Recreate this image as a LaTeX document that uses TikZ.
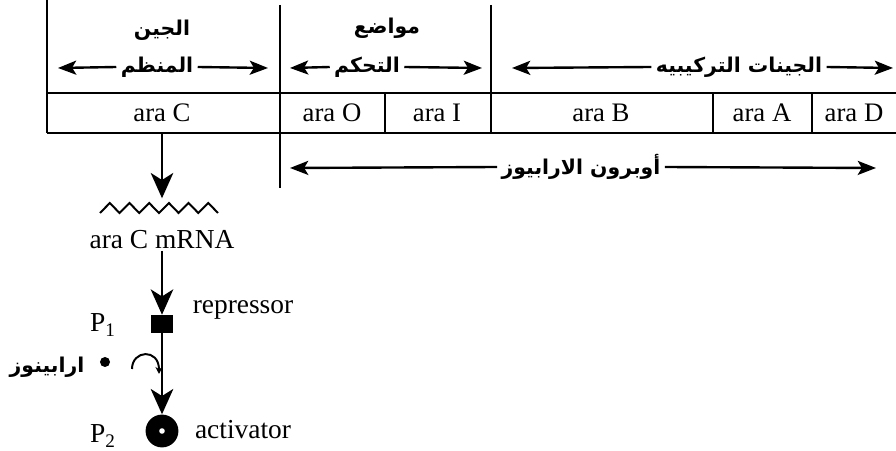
\documentclass[tikz,border=0pt]{standalone}
\usepackage{fontspec}
\setmainfont{Liberation Serif}
\newfontfamily\arabicfont[Script=Arabic]{DejaVu Sans}
\TeXXeTstate=1
\usetikzlibrary{positioning,arrows.meta}
\tikzset{
  ln/.style={line width=1.7pt},
  harr/.style={ln, -{Stealth[length=13pt,width=10pt,inset=3pt]}},
  varr/.style={ln, -{Stealth[length=18pt,width=16pt,inset=5pt]}},
  lab/.style={font=\fontsize{19.5}{21}\selectfont, inner sep=1pt},
  cell/.style={font=\fontsize{19}{21}\selectfont, inner sep=0pt, minimum height=1cm},
  arlab/.style={font=\fontsize{14.5}{17}\selectfont\arabicfont\bfseries, inner sep=3pt}}

\begin{document}
\begin{tikzpicture}[x=0.025cm, y=-0.025cm]
\useasboundingbox (0,0) rectangle (896,451);
% frame of the gene map
\draw[ln] (47,0) -- (47,133);
\draw[ln] (280,5) -- (280,188);
\draw[ln] (491,5) -- (491,133);
\draw[ln] (47,93) -- (896,93);
\draw[ln] (47,133) -- (896,133);
\foreach \x in {385,713,812} \draw[ln] (\x,93) -- (\x,133);
% cells
\node[cell, minimum width=5.8cm] (arac) at (162,113) {ara C};
\node[cell] (arao) at (332,113) {ara O};
\node[cell] (arai) at (437,113) {ara I};
\node[cell] (arab) at (601,113) {ara B};
\node[cell] (araa) at (762,113) {ara A};
\node[cell] (arad) at (854,113) {ara D};
% arabic headings
\node[arlab] (gene) at (162,30) {\beginR الجين\endR};
\node[arlab] (reg) at (157,67) {\beginR المنظم\endR};
\coordinate (regl) at (58,68);
\coordinate (regr) at (268,68);
\draw[harr] (reg.west) -- (regl);
\draw[harr] (reg.east) -- (regr);
\node[arlab] (sites) at (387,28) {\beginR مواضع\endR};
\node[arlab] (ctrl) at (367,67) {\beginR التحكم\endR};
\coordinate (ctrll) at (290,68);
\coordinate (ctrlr) at (482,68);
\draw[harr] (ctrl.west) -- (ctrll);
\draw[harr] (ctrl.east) -- (ctrlr);
\node[arlab] (struct) at (739,67) {\beginR الجينات التركيبيه\endR};
\coordinate (strl) at (512,68);
\coordinate (strr) at (893,68);
\draw[harr] (struct.west) -- (strl);
\draw[harr] (struct.east) -- (strr);
\node[arlab] (operon) at (581,167) {\beginR أوبرون الارابيوز\endR};
\coordinate (opl) at (290,168);
\coordinate (opr) at (876,168);
\draw[harr] (operon.west) -- (opl);
\draw[harr] (operon.east) -- (opr);
% mRNA and regulator
\path (arac.south) ++(0,65) coordinate (zz);
\draw[varr] (arac.south) -- (zz);
\draw[line width=1.4pt] (100,213) \foreach \i in {0,...,5} {-- ({109.8+19.7*\i},203) -- ({119.5+19.7*\i},213)};
\node[lab] (mrna) at (162,240) {ara C mRNA};
\node[fill, minimum width=0.525cm, minimum height=0.45cm, inner sep=0pt] (rep) at (162,324) {};
\draw[varr] (mrna.south) -- (rep.north);
\node[lab] (repl) at (243,310) {repressor};
\node[lab] (p1) at (103,325) {P\textsubscript{1}};
\node[circle, fill, minimum size=0.82cm, inner sep=0pt] (act) at (162,431) {};
\node[circle, fill=white, minimum size=0.14cm, inner sep=0pt] (actc) at (act) {};
\draw[varr] (rep.south) -- (act.north);
\node[lab] (actl) at (243,430) {activator};
\node[lab] (p2) at (103,436) {P\textsubscript{2}};
\node[circle, fill, minimum size=0.25cm, inner sep=0pt] (sugar) at (105,362) {};
\node[arlab] (sugarl) at (47,367) {\beginR ارابينوز\endR};
\coordinate (hk1) at (132,369);
\coordinate (hk2) at (159,374);
\draw[line width=1.4pt, -{Stealth[length=5pt,width=5pt]}] (hk1) .. controls (132,350) and (159,348) .. (hk2);
\end{tikzpicture}
\end{document}
